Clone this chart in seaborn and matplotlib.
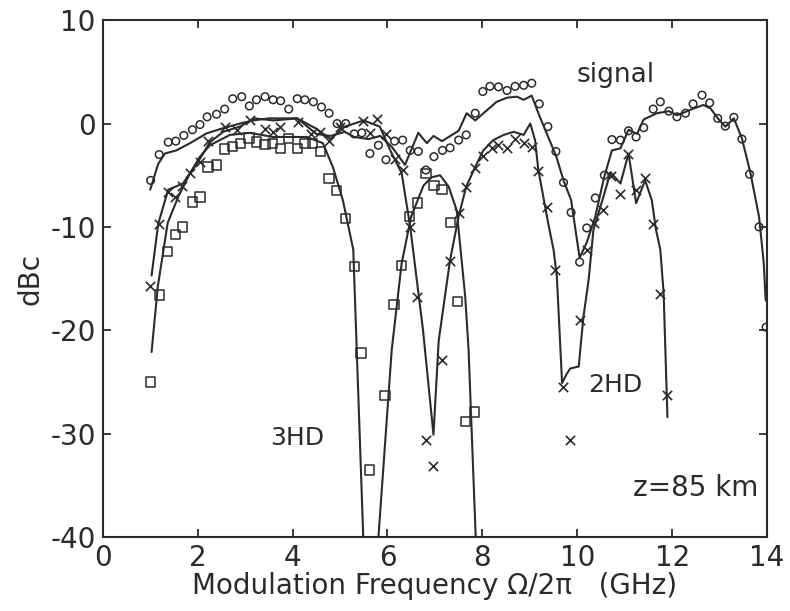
import numpy as np
import pandas as pd
import seaborn as sns
import matplotlib
matplotlib.use("Agg")
import matplotlib.pyplot as plt

# measured signal (circles)
sig_f = [1.01, 1.19, 1.38, 1.54, 1.71, 1.89, 2.05, 2.20, 2.40, 2.57, 2.74, 2.93, 3.09, 3.24,
         3.42, 3.59, 3.75, 3.92, 4.10, 4.26, 4.44, 4.61, 4.77, 4.94, 5.12, 5.30, 5.46, 5.63,
         5.81, 5.97, 6.15, 6.32, 6.48, 6.65, 6.81, 6.98, 7.16, 7.32, 7.50, 7.66, 7.85, 8.01,
         8.16, 8.34, 8.52, 8.69, 8.87, 9.04, 9.20, 9.38, 9.55, 9.71, 9.87, 10.05, 10.20, 10.38,
         10.57, 10.73, 10.91, 11.08, 11.24, 11.40, 11.60, 11.75, 11.93, 12.10, 12.28, 12.44,
         12.63, 12.79, 12.96, 13.12, 13.30, 13.47, 13.63, 13.83, 13.98]
sig_db = [-5.5, -3.0, -1.8, -1.7, -1.15, -0.6, -0.1, 0.65, 0.9, 1.4, 2.4, 2.6, 1.7, 2.3,
          2.6, 2.3, 2.2, 1.4, 2.4, 2.3, 2.1, 1.6, 1.0, 0.0, 0.0, -1.0, -0.9, -2.9,
          -2.1, -3.5, -1.7, -1.6, -2.6, -2.7, -4.5, -3.2, -2.6, -2.35, -1.6, -1.1, 1.0, 3.1,
          3.6, 3.55, 3.2, 3.6, 3.7, 3.9, 1.9, -0.3, -2.7, -5.7, -8.6, -13.4, -10.1, -7.2,
          -5.0, -1.55, -1.6, -0.7, -1.3, -0.4, 1.4, 2.1, 1.2, 0.65, 1.0, 1.9,
          2.75, 2.0, 0.5, -0.25, 0.6, -1.5, -4.9, -10.0, -19.7]

# measured 2HD (crosses)
hd2_f = [0.99, 1.19, 1.38, 1.52, 1.68, 1.85, 2.05, 2.22, 2.57, 2.82, 3.10, 3.42, 3.59, 3.73,
         4.12, 4.39, 4.58, 4.77, 4.99, 5.49, 5.63, 5.79, 5.98, 6.16, 6.32, 6.48, 6.63, 6.81,
         6.97, 7.15, 7.32, 7.50, 7.66, 7.85, 8.02, 8.20, 8.34, 8.52, 8.69, 8.87, 9.04, 9.18,
         9.37, 9.54, 9.69, 9.84, 10.05, 10.20, 10.36, 10.55, 10.72, 10.89, 11.07, 11.24, 11.42,
         11.60, 11.74, 11.90]
hd2_db = [-15.7, -9.7, -6.6, -7.1, -6.05, -4.8, -3.7, -1.7, -0.3, -0.6, 0.3, -0.5, -0.8, -0.3,
          0.15, -1.0, -0.8, -1.7, -0.3, 0.25, -0.9, 0.4, -1.0, -3.4, -4.5, -10.0, -16.8, -30.6,
          -33.1, -22.9, -13.3, -8.7, -6.1, -4.3, -3.1, -2.4, -2.1, -2.4, -1.45, -1.9, -2.25, -4.6,
          -8.05, -14.2, -25.5, -30.6, -19.0, -12.2, -9.6, -8.4, -5.1, -6.8, -2.9, -6.4, -5.3,
          -9.7, -16.5, -26.3]

# measured 3HD (squares)
hd3_f = [1.01, 1.19, 1.36, 1.54, 1.68, 1.89, 2.05, 2.22, 2.40, 2.57, 2.74, 2.91, 3.08, 3.24,
         3.42, 3.58, 3.75, 3.92, 4.10, 4.26, 4.42, 4.59, 4.77, 4.93, 5.12, 5.30, 5.44, 5.62,
         5.95, 6.14, 6.30, 6.46, 6.63, 6.81, 6.98, 7.15, 7.33, 7.48, 7.64, 7.83]
hd3_db = [-25.0, -16.6, -12.4, -10.7, -10.0, -7.6, -7.1, -4.2, -4.0, -2.45, -2.25, -1.9, -1.4, -1.8,
          -2.0, -1.9, -2.4, -1.45, -2.4, -1.9, -1.9, -2.7, -5.3, -6.5, -9.2, -13.8, -22.2, -33.5,
          -26.3, -17.5, -13.7, -9.0, -7.7, -4.8, -6.0, -6.4, -9.6, -17.2, -28.8, -27.9]

# theory curves
th_sig_f = [1.0, 1.17, 1.31, 1.55, 1.84, 2.19, 2.5, 2.89, 3.17, 3.5, 4.1, 4.5, 4.8, 5.1, 5.3,
            5.6, 5.85, 6.1, 6.37, 6.65, 6.83, 6.97, 7.15, 7.5, 7.67, 7.85, 8.3, 8.52, 8.73, 8.87,
            9.04, 9.18, 9.36, 9.56, 9.71, 9.87, 10.05, 10.2, 10.38, 10.56, 10.73, 10.91, 11.08,
            11.26, 11.4, 11.68, 11.93, 12.1, 12.45, 12.66, 12.81, 12.98, 13.12, 13.3, 13.47,
            13.65, 13.83, 13.93, 13.97, 14.0]
th_sig_db = [-6.4, -3.9, -2.9, -2.6, -1.9, -0.95, -0.5, 0.0, 0.3, 0.5, 0.5, -1.0, -1.2, -0.8, -1.3,
             -1.5, -1.2, -2.3, -4.0, -0.9, -1.9, -1.2, -1.7, -0.7, 1.0, 0.3, 2.1, 2.5, 2.6, 2.3,
             2.7, 1.0, -1.0, -3.2, -5.5, -7.4, -13.0, -11.5, -9.0, -5.3, -2.6, -2.4, -0.6,
             -1.0, 0.4, 1.0, 1.2, 0.8, 1.45, 1.8, 1.45, 0.4, -0.3, 0.5, -1.45,
             -4.8, -9.0, -13.5, -17.1, -17.2]

th_2hd_f = [1.03, 1.17, 1.38, 1.69, 2.01, 2.26, 2.54, 2.89, 3.2, 3.6, 4.1, 4.5, 4.8, 5.1, 5.5,
            5.84, 6.05, 6.3, 6.48, 6.75, 6.97, 7.08, 7.32, 7.5, 7.66, 7.85, 8.02, 8.23, 8.45,
            8.66, 8.87, 9.01, 9.11, 9.18, 9.39, 9.5, 9.57, 9.68, 9.78, 9.85, 10.03, 10.13, 10.24,
            10.34, 10.55, 10.7, 10.91, 11.08, 11.24, 11.43, 11.57, 11.66, 11.75, 11.82, 11.9]
th_2hd_db = [-14.7, -9.7, -6.4, -5.8, -3.7, -1.8, -0.8, -0.3, 0.5, 0.3, 0.5, -0.5, -1.5, -0.3, 0.3,
             -0.3, -2.5, -4.8, -10.0, -20.0, -30.1, -21.0, -13.2, -9.0, -6.1, -4.2, -2.6, -1.6, -1.1,
             -0.8, -1.1, 0.0, -1.6, -4.5, -9.7, -12.2, -14.8, -25.1, -24.2, -23.7, -23.5, -18.7, -15.1,
             -10.3, -7.1, -4.7, -5.8, -2.9, -7.7, -5.5, -7.4, -10.3, -12.2, -16.4, -28.4]

th_3hd_f = [1.03, 1.16, 1.37, 1.6, 1.84, 2.05, 2.26, 2.68, 3.1, 3.59, 4.3, 4.64, 4.85, 5.06, 5.28,
            5.49, 5.65, 5.81, 6.09, 6.3, 6.5, 6.76, 6.93, 7.11, 7.29, 7.46, 7.64, 7.71, 7.86]
th_3hd_db = [-22.1, -15.8, -9.6, -7.0, -4.8, -3.2, -2.1, -1.1, -0.9, -1.3, -1.3, -1.9, -4.2, -7.4, -12.2,
             -40.0, -60.0, -40.0, -21.9, -13.5, -9.0, -6.0, -5.2, -5.0, -6.1, -8.4, -16.8, -21.9, -40.0]

ink = "#2b2b2b"

sns.set_style("ticks")
plt.rcParams["font.family"] = ["DejaVu Sans"]
plt.rcParams["axes.unicode_minus"] = False

fig = plt.figure(figsize=(7.9, 6.11), dpi=100)
ax = fig.add_axes([0.130, 0.121, 0.841, 0.846])

for f, db in [(th_sig_f, th_sig_db), (th_2hd_f, th_2hd_db), (th_3hd_f, th_3hd_db)]:
    sns.lineplot(x=f, y=db, ax=ax, sort=False, color=ink, lw=1.5, estimator=None)

sns.scatterplot(x=sig_f, y=sig_db, ax=ax, marker="o", s=30, facecolor="none",
                edgecolor=ink, linewidth=1.1, zorder=3)
sns.scatterplot(x=hd2_f, y=hd2_db, ax=ax, marker="x", s=45, color=ink,
                linewidth=1.2, zorder=3)
sns.scatterplot(x=hd3_f, y=hd3_db, ax=ax, marker="s", s=45, facecolor="none",
                edgecolor=ink, linewidth=1.1, zorder=3)

ax.set_xlim(0, 14)
ax.set_ylim(-40, 10)
ax.set_xticks(range(0, 15, 2))
ax.set_yticks(range(-40, 11, 10))
ax.tick_params(direction="in", top=True, right=True, length=6, width=1.3,
               labelsize=20, colors=ink, pad=5)
for sp in ax.spines.values():
    sp.set_linewidth(1.5)
    sp.set_color(ink)

ax.set_xlabel("Modulation Frequency \u03a9/2\u03c0   (GHz)", fontsize=20, color=ink, labelpad=0)
ax.set_ylabel("dBc", fontsize=20, color=ink, labelpad=4)

ax.text(10.8, 4.7, "signal", fontsize=19, color=ink, ha="center", va="center")
ax.text(4.1, -30.4, "3HD", fontsize=18, color=ink, ha="center", va="center")
ax.text(10.8, -25.3, "2HD", fontsize=18, color=ink, ha="center", va="center")
ax.text(12.5, -35.3, "z=85 km", fontsize=20, color=ink, ha="center", va="center")

fig.savefig("out.png", dpi=100)
